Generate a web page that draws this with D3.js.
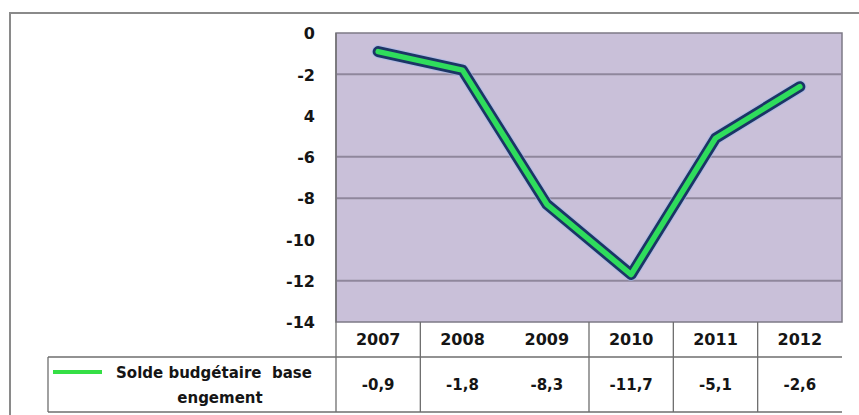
<!DOCTYPE html>
<html><head><meta charset="utf-8">
<script src="https://cdn.jsdelivr.net/npm/d3@7/dist/d3.min.js"></script>
<style>body{margin:0;background:#fff}svg{display:block}</style>
</head><body><svg id="c" width="859" height="415"></svg>
<script>
const years = ["2007","2008","2009","2010","2011","2012"];
const values = [-0.9,-1.8,-8.3,-11.7,-5.1,-2.6];
const valueLabels = ["-0,9","-1,8","-8,3","-11,7","-5,1","-2,6"];
const tickValues = [0,-2,-4,-6,-8,-10,-12,-14];
const tickLabels = ["0","-2","4","-6","-8","-10","-12","-14"];
const gridValues = [-2,-6,-8,-12];
const seriesName = ["Solde budgétaire  base","engement"];

const svg = d3.select("#c");
const L = 336, R = 842, T = 33, B = 322, row1 = 357, row2 = 412, legL = 48;
const font = "'DejaVu Sans', Verdana, sans-serif";
const ink = "#151515";

// outer frame
svg.append("path").attr("d", `M10,415 L10,13 L859,13`).attr("fill","none")
  .attr("stroke","#8a8a8a").attr("stroke-width",2);

const x = d3.scaleBand().domain(years).range([L, R]);
const y = d3.scaleLinear().domain([-14, 0]).range([B, T]);

// plot background
svg.append("rect").attr("x",L).attr("y",T).attr("width",R-L).attr("height",B-T)
  .attr("fill","#c9c0d9").attr("stroke","#7d7a86").attr("stroke-width",1.5);

// gridlines
svg.append("g").selectAll("line").data(gridValues).join("line")
  .attr("x1",L).attr("x2",R).attr("y1",d=>y(d)).attr("y2",d=>y(d))
  .attr("stroke","#8f879c").attr("stroke-width",2);

// y tick labels
const yAxis = d3.axisLeft(y).tickValues(tickValues).tickSize(0).tickPadding(0)
  .tickFormat((d,i)=>tickLabels[i]);
const ga = svg.append("g").attr("transform",`translate(315,0)`).call(yAxis);
ga.select(".domain").remove();
ga.selectAll("text").attr("font-family",font).attr("font-weight","bold")
  .attr("font-size",16).attr("fill",ink).attr("dy","0.36em");

// line
const line = d3.line().x((d,i)=>x(years[i])+x.bandwidth()/2).y(d=>y(d));
svg.append("path").datum(values).attr("d",line).attr("fill","none")
  .attr("stroke","#9fb4ea").attr("stroke-width",13).attr("stroke-opacity",0.6)
  .attr("stroke-linejoin","round").attr("stroke-linecap","round");
svg.append("path").datum(values).attr("d",line).attr("fill","none")
  .attr("stroke","#1b3565").attr("stroke-width",11)
  .attr("stroke-linejoin","round").attr("stroke-linecap","round");
svg.append("path").datum(values).attr("d",line).attr("fill","none")
  .attr("stroke","#2fdc5c").attr("stroke-width",5.5)
  .attr("stroke-linejoin","round").attr("stroke-linecap","round");

// table
const tbl = svg.append("g").attr("stroke","#6e6e6e").attr("stroke-width",1.3);
tbl.append("line").attr("x1",L).attr("x2",L).attr("y1",T).attr("y2",row2);
tbl.append("line").attr("x1",legL).attr("x2",R).attr("y1",row1).attr("y2",row1);
tbl.append("line").attr("x1",legL).attr("x2",R).attr("y1",row2).attr("y2",row2);
tbl.append("line").attr("x1",legL).attr("x2",legL).attr("y1",row1).attr("y2",row2);
tbl.selectAll(".v").data(years.slice(1).filter(d=>d!=="2009")).join("line")
  .attr("x1",d=>x(d)).attr("x2",d=>x(d)).attr("y1",B).attr("y2",row2);

svg.append("g").selectAll("text").data(years).join("text")
  .attr("x",d=>x(d)+x.bandwidth()/2).attr("y",339).attr("dy","0.36em")
  .attr("text-anchor","middle").attr("font-family",font).attr("font-weight","bold")
  .attr("font-size",16).attr("fill",ink).text(d=>d);

svg.append("g").selectAll("text").data(valueLabels).join("text")
  .attr("x",(d,i)=>x(years[i])+x.bandwidth()/2).attr("y",385).attr("dy","0.36em")
  .attr("text-anchor","middle").attr("font-family",font).attr("font-weight","bold")
  .attr("font-size",15).attr("fill",ink).text(d=>d);

// legend
svg.append("line").attr("x1",53).attr("x2",102).attr("y1",372).attr("y2",372)
  .attr("stroke","#35df45").attr("stroke-width",4);
svg.append("text").attr("x",214).attr("y",373).attr("dy","0.36em").attr("text-anchor","middle")
  .attr("font-family",font).attr("font-weight","bold").attr("font-size",15)
  .style("white-space","pre").attr("fill",ink).text(seriesName[0]);
svg.append("text").attr("x",220).attr("y",398).attr("dy","0.36em").attr("text-anchor","middle")
  .attr("font-family",font).attr("font-weight","bold").attr("font-size",15)
  .attr("fill",ink).text(seriesName[1]);
</script></body></html>
